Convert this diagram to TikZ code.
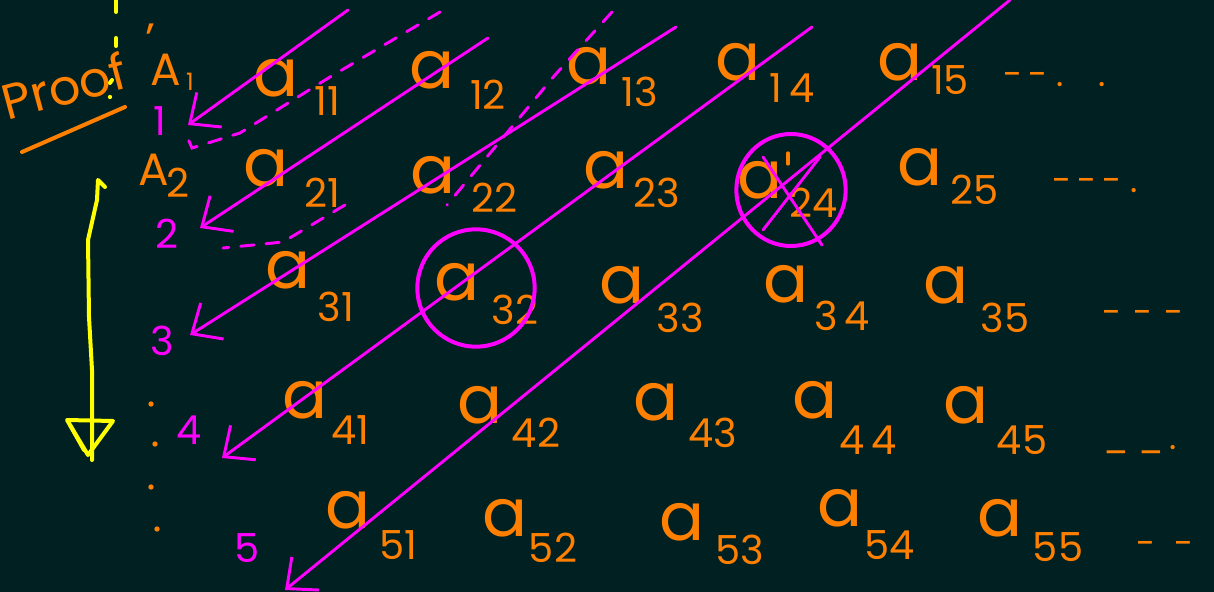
\documentclass[tikz,border=0pt]{standalone}
\usepackage{fontspec}
\setmainfont{Poppins}
\usetikzlibrary{arrows.meta}
\definecolor{bg}{RGB}{1,32,34}
\definecolor{org}{RGB}{255,128,0}
\definecolor{mag}{RGB}{255,0,255}
\definecolor{yel}{RGB}{255,255,0}
\tikzset{
  entry/.style={text=org,inner sep=0pt,font=\fontsize{50}{50}\selectfont},
  subs/.style={text=org,inner sep=0pt,font=\fontsize{30}{30}\selectfont},
  rowlab/.style={text=org,inner sep=0pt,font=\fontsize{34}{34}\selectfont},
  numlab/.style={text=mag,inner sep=0pt,font=\fontsize{30}{30}\selectfont},
  trail/.style={text=org,inner sep=0pt,font=\fontsize{26}{26}\selectfont},
  magarrow/.style={draw=mag,line width=2.2pt,line cap=round,-{Straight Barb[length=18pt,width=32pt,line width=2.2pt]}},
  magdash/.style={draw=mag,line width=2.2pt,line cap=round,dash pattern=on 10pt off 9pt},
  ring/.style={draw=mag,line width=3pt},
  yelline/.style={draw=yel,line width=3pt,line cap=round,line join=round},
  orgline/.style={draw=org,line width=3pt,line cap=round},
  dotmark/.style={fill=org,circle,inner sep=0pt,minimum size=4pt}
}
\begin{document}
\begin{tikzpicture}[x=0.75pt,y=-0.75pt]
\fill[bg] (0,0) rectangle (1214,592);
\useasboundingbox (0,0) rectangle (1214,592);

% Proof heading
\node[text=org,inner sep=0pt,font=\fontsize{37}{37}\selectfont,rotate=15] (proof) at (64,86) {Proof};
\node[rowlab] (tick) at (150,40) {'};
\coordinate (ul1) at (22,152);
\coordinate (ul2) at (125,107);
\draw[orgline] (ul1) -- (ul2);

% yellow fragments
\coordinate (y1) at (116,0); \coordinate (y2) at (116,12);
\draw[yelline] (y1) -- (y2);
\coordinate (y3) at (116,38); \coordinate (y4) at (116,46);
\draw[yelline] (y3) -- (y4);
\coordinate (y5) at (112,80); \coordinate (y6) at (110,83);
\draw[yelline] (y5) -- (y6);
\fill[yel] (110,97) circle (1.6pt);

% yellow arrow
\coordinate (ya) at (105,187);
\coordinate (yb) at (98,180);
\coordinate (yc) at (88,240);
\coordinate (yd) at (89,317);
\coordinate (ye) at (92,370);
\coordinate (yf) at (92,460);
\draw[yelline] (ya) -- (yb) -- (97,200) -- (yc) -- (yd) -- (ye) -- (yf);
\coordinate (t1) at (67,420);
\coordinate (t2) at (113,421);
\coordinate (t3) at (88,455);
\draw[yelline] (t1) -- (t2) -- (t3) -- cycle;
\draw[yelline] (70,425) -- (84,450);

% row labels A1, A2
\node[rowlab] (A1) at (166,70) {A};
\node[subs,font=\fontsize{18}{18}\selectfont] (A1s) at (190,82) {1};
\node[rowlab] (A2) at (154,170) {A};
\node[subs] (A2s) at (178,183) {2};

% magenta numbers
\node[numlab] (n1) at (160,121) {1};
\node[numlab] (n2) at (167,234) {2};
\node[numlab] (n3) at (162,341) {3};
\node[numlab] (n4) at (189,430) {4};
\node[numlab] (n5) at (247,548) {5};

% orange dots
\node[dotmark] (d1) at (151,404) {};
\node[dotmark] (d2) at (155,444) {};
\node[dotmark] (d3) at (151,487) {};
\node[dotmark] (d4) at (157,529) {};

% row 1
\node[entry] (a11) at (276,78) {a};  \node[subs] (s11) at (327,101) {11};
\node[entry] (a12) at (432,70) {a};  \node[subs] (s12) at (488,95) {12};
\node[entry] (a13) at (589,66) {a};  \node[subs] (s13) at (640,92) {13};
\node[entry] (a14) at (738,62) {a};  \node[subs] (s14) at (792,88) {1\,4};
\node[entry] (a15) at (900,62) {a};  \node[subs] (s15) at (950,80) {15};
\node[trail] (r1) at (1055,80) {-\,- .\quad .};

% row 2
\node[entry] (a21) at (266,168) {a};  \node[subs] (s21) at (322,193) {21};
\node[entry] (a22) at (433,175) {a};  \node[subs] (s22) at (494,198) {22};
\node[entry] (a23) at (606,170) {a};  \node[subs] (s23) at (657,193) {23};
\node[entry] (a24) at (760,180) {a};  \node[subs] (s24) at (814,203) {24};
\node[entry] (a25) at (920,167) {a};  \node[subs] (s25) at (975,190) {25};
\node[trail] (r2) at (1095,186) {-\,-\,- .};

% row 3
\node[entry] (a31) at (288,270) {a};  \node[subs] (s31) at (336,307) {31};
\node[entry] (a32) at (457,282) {a};  \node[subs] (s32) at (515,310) {32};
\node[entry] (a33) at (622,285) {a};  \node[subs] (s33) at (680,318) {33};
\node[entry] (a34) at (786,284) {a};  \node[subs] (s34) at (842,316) {3\,4};
\node[entry] (a35) at (946,285) {a};  \node[subs] (s35) at (1005,318) {35};
\node[trail] (r3) at (1143,317) {-\,\,-\,\,-};

% row 4
\node[entry] (a41) at (305,400) {a};  \node[subs] (s41) at (350,430) {41};
\node[entry] (a42) at (480,405) {a};  \node[subs] (s42) at (536,433) {42};
\node[entry] (a43) at (656,402) {a};  \node[subs] (s43) at (713,433) {43};
\node[entry] (a44) at (815,400) {a};  \node[subs] (s44) at (868,440) {4\,4};
\node[entry] (a45) at (966,405) {a};  \node[subs] (s45) at (1022,440) {45};
\node[trail] (r4) at (1140,450) {\_\;\_\,.};

% row 5
\node[entry] (a51) at (348,510) {a};  \node[subs] (s51) at (398,545) {51};
\node[entry] (a52) at (505,518) {a};  \node[subs] (s52) at (553,548) {52};
\node[entry] (a53) at (682,522) {a};  \node[subs] (s53) at (740,550) {53};
\node[entry] (a54) at (840,508) {a};  \node[subs] (s54) at (890,545) {54};
\node[entry] (a55) at (1000,518) {a};  \node[subs] (s55) at (1058,547) {55};
\node[trail] (r5) at (1165,548) {-\;\;-};

% circles
\draw[ring] (476,288) circle (44pt);
\draw[ring] (791,190) ellipse (41pt and 42pt);
% cross on a24
\coordinate (x1) at (763,157); \coordinate (x2) at (822,245);
\coordinate (x3) at (763,230); \coordinate (x4) at (820,157);
\draw[draw=mag,line width=2.2pt,line cap=round] (x1) -- (x2);
\draw[draw=mag,line width=2.2pt,line cap=round] (x3) -- (x4);
\coordinate (x5) at (788,153); \coordinate (x6) at (788,164);
\draw[orgline,line width=2.5pt] (x5) -- (x6);

% diagonal arrows
\coordinate (L1s) at (348,10);  \coordinate (L1e) at (188,125);
\coordinate (L2s) at (488,38);  \coordinate (L2e) at (200,228);
\coordinate (L3s) at (676,27);  \coordinate (L3e) at (190,335);
\coordinate (L4s) at (812,27);  \coordinate (L4e) at (222,458);
\coordinate (L5s) at (1010,0);  \coordinate (L5e) at (285,590);
\draw[magarrow] (L1s) -- (L1e);
\draw[magarrow] (L2s) -- (L2e);
\draw[magarrow] (L3s) -- (L3e);
\draw[magarrow] (L4s) -- (L4e);
\draw[magarrow] (L5s) -- (L5e);

% dashed return strokes
\coordinate (D1s) at (440,12);
\coordinate (D1e) at (185,132);
\draw[magdash] (D1s) -- (330,77) -- (240,133) -- (192,148) -- (D1e);
\coordinate (D2s) at (612,12);
\coordinate (D2e) at (223,248);
\draw[magdash] (D2s) -- (555,75) -- (447,205);
\draw[magdash] (345,205) -- (283,242) -- (D2e);
\end{tikzpicture}
\end{document}
